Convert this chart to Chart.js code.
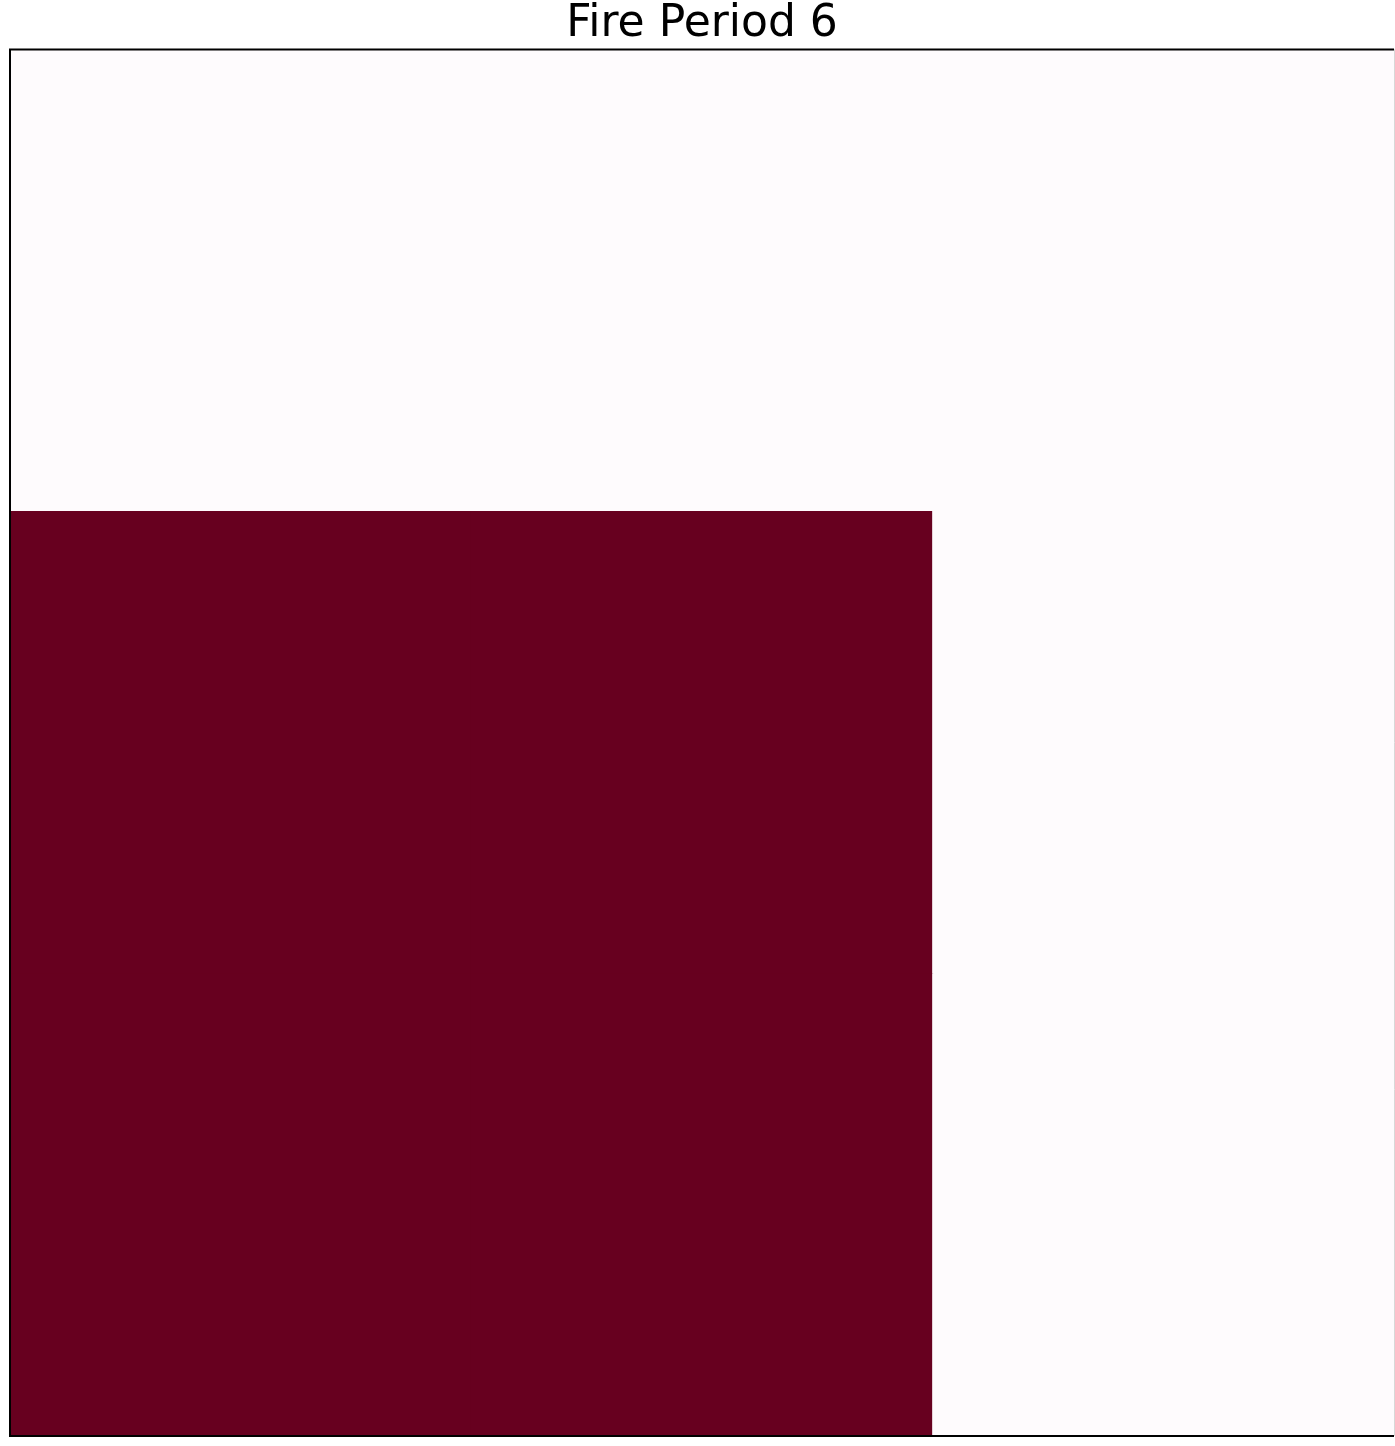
<!DOCTYPE html>
<html>
<head>
<meta charset="utf-8">
<style>
  html, body { margin: 0; padding: 0; background: #ffffff; }
  #wrap { width: 1395px; height: 1446px; position: relative; }
</style>
<script src="https://cdn.jsdelivr.net/npm/chart.js@4.4.1/dist/chart.umd.min.js"></script>
</head>
<body>
<div id="wrap"><canvas id="c" width="1395" height="1446"></canvas></div>
<script>
// Grid columns (x) and rows (y, top to bottom)
const columns = ['0', '1', '2'];
const rowsTopToBottom = ['0', '1', '2'];
// Cell values, row by row from top to bottom
const row0 = [0, 0, 0];
const row1 = [1, 1, 0];
const row2 = [1, 1, 0];
const gridValues = [row0, row1, row2];
const titleText = 'Fire Period 6';

const lowColor = '#fefbfd';
const highColor = '#67001f';
function cellColor(v) { return v >= 0.5 ? highColor : lowColor; }

// stacked bars from bottom row to top row, each cell height 1
const datasets = gridValues.slice().reverse().map((row, i) => ({
  label: 'row ' + (rowsTopToBottom.length - 1 - i),
  data: row.map(() => 1),
  backgroundColor: row.map(cellColor),
  borderColor: row.map(cellColor),
  borderWidth: 0,
  borderSkipped: false,
  inflateAmount: 0.5,
  barPercentage: 1.0,
  categoryPercentage: 1.0,
  stack: 's'
}));

const framePlugin = {
  id: 'frame',
  afterDatasetsDraw(chart) {
    const a = chart.chartArea, ctx = chart.ctx;
    ctx.save();
    ctx.lineWidth = 2;
    ctx.strokeStyle = '#000000';
    ctx.beginPath();
    ctx.moveTo(a.right, a.top);
    ctx.lineTo(a.left, a.top);
    ctx.lineTo(a.left, a.bottom);
    ctx.lineTo(a.right, a.bottom);
    ctx.stroke();
    ctx.strokeStyle = '#d8d8d8';
    ctx.lineWidth = 1;
    ctx.beginPath();
    ctx.moveTo(a.right + 0.5, a.top);
    ctx.lineTo(a.right + 0.5, a.bottom);
    ctx.stroke();
    ctx.restore();
  }
};

new Chart(document.getElementById('c'), {
  type: 'bar',
  data: { labels: columns, datasets },
  options: {
    responsive: false,
    animation: false,
    layout: { padding: { left: 10, right: 1, top: 0, bottom: 10 } },
    plugins: {
      legend: { display: false },
      tooltip: { enabled: false },
      title: {
        display: true,
        text: titleText,
        color: '#000000',
        font: { family: 'DejaVu Sans', size: 44, weight: 'normal', lineHeight: 1.1 },
        padding: { top: 0, bottom: 1 }
      }
    },
    scales: {
      x: { display: false, stacked: true, offset: true },
      y: { display: false, stacked: true, min: 0, max: 3 }
    }
  },
  plugins: [framePlugin]
});
</script>
</body>
</html>
